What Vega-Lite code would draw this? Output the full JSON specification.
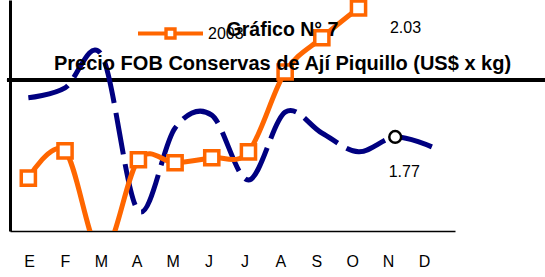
{
  "$schema": "https://vega.github.io/schema/vega-lite/v6.json",
  "width": 445,
  "height": 231,
  "padding": {"left": 10, "top": 0, "right": 90, "bottom": 46},
  "autosize": {"type": "none"},
  "background": "white",
  "title": {
    "text": "Gráfico N° 7",
    "subtitle": "Precio FOB Conservas de Ají Piquillo (US$ x kg)",
    "font": "Liberation Sans",
    "fontSize": 19.5,
    "fontWeight": "bold",
    "color": "black",
    "subtitleFont": "Liberation Sans",
    "subtitleFontSize": 20,
    "subtitleFontWeight": "bold",
    "subtitleColor": "black",
    "subtitlePadding": 14,
    "anchor": "middle",
    "frame": "group",
    "dx": 50,
    "offset": -75
  },
  "data": {
    "values": [
      {"mes": 1, "serie": "2002", "precio": 1.849},
      {"mes": 2, "serie": "2002", "precio": 1.869},
      {"mes": 3, "serie": "2002", "precio": 1.935},
      {"mes": 4, "serie": "2002", "precio": 1.621},
      {"mes": 5, "serie": "2002", "precio": 1.788},
      {"mes": 6, "serie": "2002", "precio": 1.814},
      {"mes": 7, "serie": "2002", "precio": 1.683},
      {"mes": 8, "serie": "2002", "precio": 1.820},
      {"mes": 9, "serie": "2002", "precio": 1.778},
      {"mes": 10, "serie": "2002", "precio": 1.740},
      {"mes": 11, "serie": "2002", "precio": 1.77},
      {"mes": 12, "serie": "2002", "precio": 1.750},
      {"mes": 1, "serie": "2003", "precio": 1.687},
      {"mes": 2, "serie": "2003", "precio": 1.742},
      {"mes": 3, "serie": "2003", "precio": 1.532},
      {"mes": 4, "serie": "2003", "precio": 1.724},
      {"mes": 5, "serie": "2003", "precio": 1.718},
      {"mes": 6, "serie": "2003", "precio": 1.728},
      {"mes": 7, "serie": "2003", "precio": 1.740},
      {"mes": 8, "serie": "2003", "precio": 1.901},
      {"mes": 9, "serie": "2003", "precio": 1.970},
      {"mes": 10, "serie": "2003", "precio": 2.03}
    ]
  },
  "resolve": {"scale": {"x": "independent"}},
  "layer": [
    {
      "mark": {"type": "rule", "color": "black", "strokeWidth": 2.5},
      "encoding": {
        "x": {
          "datum": 0.3872,
          "type": "quantitative",
          "scale": {"domain": [0.4708, 12.866], "nice": false, "zero": false},
          "axis": {
            "orient": "bottom",
            "values": [1, 2, 3, 4, 5, 6, 7, 8, 9, 10, 11, 12],
            "labelExpr": "['E','F','M','A','M','J','J','A','S','O','N','D'][datum.value - 1]"
          }
        },
        "x2": {"datum": 15.373},
        "y": {
          "datum": 1.8848,
          "type": "quantitative",
          "scale": {"domain": [1.5804, 2.0461], "nice": false, "zero": false}
        }
      }
    },
    {
      "transform": [{"filter": "datum.serie === '2002'"}],
      "mark": {
        "type": "line",
        "color": "#000080",
        "strokeWidth": 5,
        "strokeDash": [42, 10],
        "interpolate": "cardinal"
      },
      "encoding": {
        "x": {"field": "mes", "type": "quantitative", "scale": {"domain": [0.5, 12.63], "nice": false, "zero": false}, "axis": null},
        "y": {"field": "precio", "type": "quantitative"}
      }
    },
    {
      "transform": [{"filter": "datum.serie === '2002' && datum.mes === 11"}],
      "mark": {"type": "point", "shape": "circle", "filled": true, "fill": "white", "stroke": "black", "strokeWidth": 2.5, "size": 140, "opacity": 1},
      "encoding": {
        "x": {"field": "mes", "type": "quantitative", "scale": {"domain": [0.5, 12.63], "nice": false, "zero": false}, "axis": null},
        "y": {"field": "precio", "type": "quantitative"}
      }
    },
    {
      "transform": [{"filter": "datum.serie === '2002' && datum.mes === 11"}],
      "mark": {"type": "text", "font": "Liberation Sans", "fontSize": 16, "color": "black", "dx": 9, "dy": 35, "align": "center", "baseline": "middle"},
      "encoding": {
        "x": {"field": "mes", "type": "quantitative", "scale": {"domain": [0.5, 12.63], "nice": false, "zero": false}, "axis": null},
        "y": {"field": "precio", "type": "quantitative"},
        "text": {"field": "precio", "type": "quantitative", "format": ".2f"}
      }
    },
    {
      "transform": [{"filter": "datum.serie === '2003'"}],
      "mark": {"type": "line", "strokeWidth": 5, "interpolate": "cardinal", "clip": true},
      "encoding": {
        "x": {"field": "mes", "type": "quantitative", "scale": {"domain": [0.5, 12.63], "nice": false, "zero": false}, "axis": null},
        "y": {"field": "precio", "type": "quantitative"},
        "color": {
          "field": "serie",
          "type": "nominal",
          "scale": {"domain": ["2003"], "range": ["#FF6600"]},
          "legend": {
            "title": null,
            "orient": "none",
            "legendX": 128,
            "legendY": 1,
            "padding": 0,
            "symbolType": "M-1,-0.062H-0.19V0.062H-1Z M0.19,-0.062H1V0.062H0.19Z M-0.19,-0.19H0.19V0.19H-0.19Z M-0.085,-0.085V0.085H0.085V-0.085Z",
            "symbolSize": 4225,
            "labelFont": "Liberation Sans",
            "labelFontSize": 16,
            "labelColor": "black",
            "labelOffset": 5,
            "encode": {
              "symbols": {
                "update": {
                  "fill": {"value": "#FF6600"},
                  "stroke": {"value": "transparent"},
                  "strokeWidth": {"value": 0},
                  "opacity": {"value": 1}
                }
              }
            }
          }
        }
      }
    },
    {
      "transform": [{"filter": "datum.serie === '2003'"}],
      "mark": {"type": "point", "shape": "square", "filled": true, "fill": "white", "stroke": "#FF6600", "strokeWidth": 3.5, "size": 200, "opacity": 1, "clip": true},
      "encoding": {
        "x": {"field": "mes", "type": "quantitative", "scale": {"domain": [0.5, 12.63], "nice": false, "zero": false}, "axis": null},
        "y": {"field": "precio", "type": "quantitative"}
      }
    },
    {
      "transform": [{"filter": "datum.serie === '2003' && datum.mes === 10"}],
      "mark": {"type": "text", "font": "Liberation Sans", "fontSize": 16, "color": "black", "dx": 47, "dy": 20, "align": "center", "baseline": "middle"},
      "encoding": {
        "x": {"field": "mes", "type": "quantitative", "scale": {"domain": [0.5, 12.63], "nice": false, "zero": false}, "axis": null},
        "y": {"field": "precio", "type": "quantitative"},
        "text": {"field": "precio", "type": "quantitative", "format": ".2f"}
      }
    }
  ],
  "config": {
    "view": {"stroke": null},
    "axis": {"grid": false, "ticks": false, "title": null},
    "axisX": {
      "domain": true,
      "domainColor": "black",
      "domainWidth": 1.5,
      "labelFont": "Liberation Sans",
      "labelFontSize": 16,
      "labelColor": "black",
      "labelPadding": 22
    },
    "axisY": {
      "domain": true,
      "domainColor": "black",
      "domainWidth": 3,
      "labels": false
    }
  }
}
